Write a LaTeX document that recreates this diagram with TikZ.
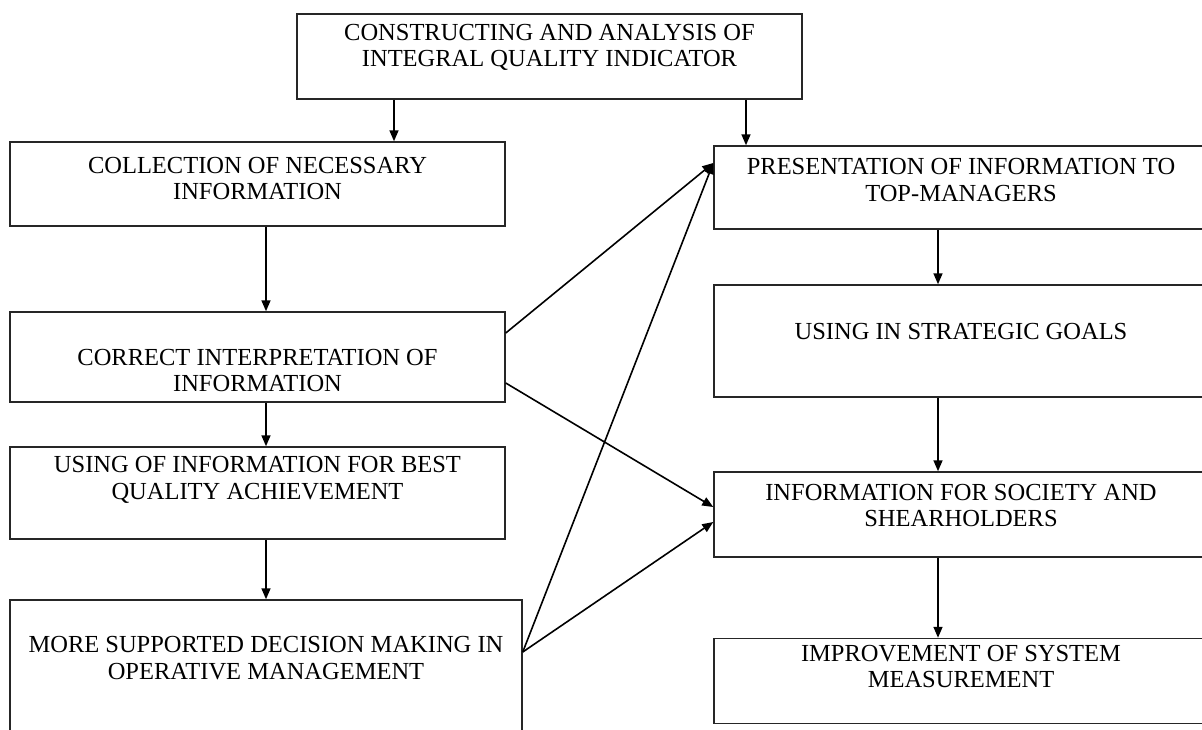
\documentclass[tikz,border=0pt]{standalone}
\usepackage{fontspec}
\setmainfont{Liberation Serif}
\usetikzlibrary{arrows.meta}
\begin{document}
\begin{tikzpicture}[x=1pt,y=-1pt,
 box/.style={draw=black!85, line width=1.5pt, rectangle, inner sep=0pt},
 txt/.style={align=center, inner sep=0pt, font=\fontsize{24.5}{26.5}\selectfont},
 arr/.style={line width=1.6pt, -{Triangle[length=11pt,width=9pt]}}]
\useasboundingbox (0,0) rectangle (1202,729);
\fill[white] (0,0) rectangle (1202,729);
% boxes
\node[box, minimum width=505, minimum height=85] (top) at (549.5,56.5) {};
\node[box, minimum width=495, minimum height=84] (l1) at (257.5,184) {};
\node[box, minimum width=495, minimum height=90] (l2) at (257.5,357) {};
\node[box, minimum width=495, minimum height=92] (l3) at (257.5,493) {};
\node[box, minimum width=512, minimum height=140] (l4) at (266,670) {};
\node[box, minimum width=494, minimum height=83] (r1) at (961,187.5) {};
\node[box, minimum width=494, minimum height=112] (r2) at (961,341) {};
\node[box, minimum width=494, minimum height=85] (r3) at (961,514.5) {};
\node[box, minimum width=494, minimum height=85] (r4) at (961,681) {};
% texts
\node[txt] (topt) at (549.5,47.5) {CONSTRUCTING AND ANALYSIS OF\\INTEGRAL QUALITY INDICATOR};
\node[txt] (l1t) at (257.5,178.5) {COLLECTION OF NECESSARY\\INFORMATION};
\node[txt] (l2t) at (257.5,370.5) {CORRECT INTERPRETATION OF\\INFORMATION};
\node[txt] (l3t) at (257.5,480) {USING OF INFORMATION FOR BEST\\QUALITY ACHIEVEMENT};
\node[txt] (l4t) at (266,658) {MORE SUPPORTED DECISION MAKING IN\\OPERATIVE MANAGEMENT};
\node[txt] (r1t) at (961,180) {PRESENTATION OF INFORMATION TO\\TOP-MANAGERS};
\node[txt] (r2t) at (961,331.5) {USING IN STRATEGIC GOALS};
\node[txt] (r3t) at (961,505.5) {INFORMATION FOR SOCIETY AND\\SHEARHOLDERS};
\node[txt] (r4t) at (961,666.5) {IMPROVEMENT OF SYSTEM\\MEASUREMENT};
% column coordinates
\coordinate (cl) at (394,0);
\coordinate (cr) at (746,0);
\coordinate (cx) at (266,0);
\coordinate (rx) at (938,0);
% vertical arrows
\draw[arr] (top.south -| cl) -- (l1.north -| cl);
\draw[arr] (top.south -| cr) -- (r1.north -| cr);
\draw[arr] (l1.south -| cx) -- (l2.north -| cx);
\draw[arr] (l2.south -| cx) -- (l3.north -| cx);
\draw[arr] (l3.south -| cx) -- (l4.north -| cx);
\draw[arr] (r1.south -| rx) -- (r2.north -| rx);
\draw[arr] (r2.south -| rx) -- (r3.north -| rx);
\draw[arr] (r3.south -| rx) -- (r4.north -| rx);
% diagonal arrows
\draw[arr] ([yshift=24pt]l2.east) -- ([yshift=24.5pt]r1.west);
\draw[arr] ([yshift=-26pt]l2.east) -- ([yshift=7.5pt]r3.west);
\draw[arr] ([yshift=18pt]l4.east) -- ([yshift=24.5pt]r1.west);
\draw[arr] ([yshift=18pt]l4.east) -- ([yshift=-7.5pt]r3.west);
\end{tikzpicture}
\end{document}
